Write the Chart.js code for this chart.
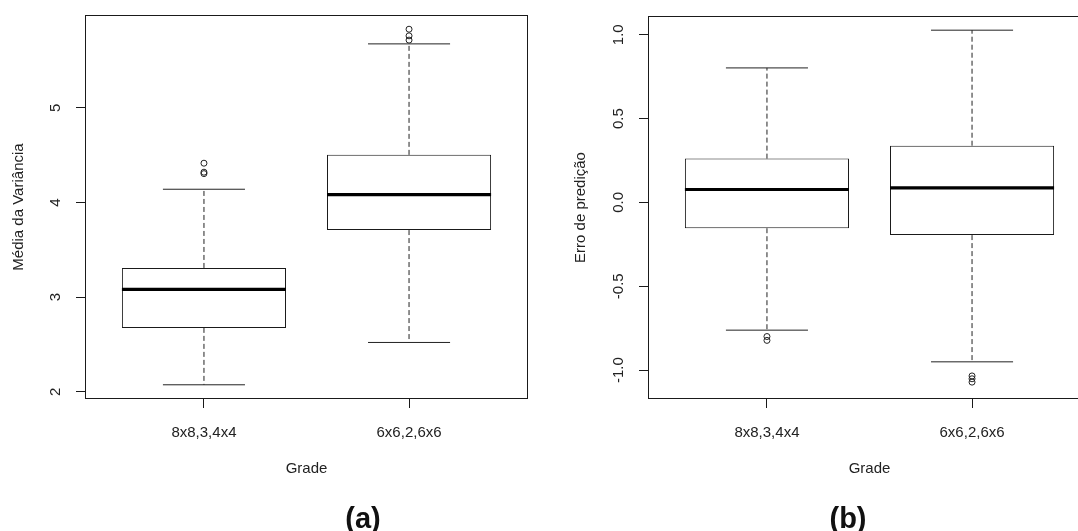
<!DOCTYPE html>
<html>
<head>
<meta charset="utf-8">
<script src="https://cdn.jsdelivr.net/npm/chart.js@4"></script>
<style>
  html, body { margin: 0; padding: 0; background: #fff; width: 1078px; height: 531px; overflow: hidden; }
  .panel { position: absolute; top: 0; }
  .tag { position: absolute; top: 504px; font: bold 29px 'Liberation Sans', Arial, sans-serif; line-height: 29px; color: #111; transform: translateX(-50%); white-space: nowrap; }
</style>
</head>
<body>
<div class="panel" style="left:0px"><canvas id="chartA" width="540" height="531"></canvas></div>
<div class="panel" style="left:540px"><canvas id="chartB" width="560" height="531"></canvas></div>
<div class="tag" style="left:363px">(a)</div>
<div class="tag" style="left:848px">(b)</div>
<script>
'use strict'

// categories (same grids on both plots)
const categories = ['8x8,3,4x4', '6x6,2,6x6'];

// (a) Média da Variância
const varLo  = [2.075, 2.522];
const varQ1  = [2.676, 3.709];
const varMed = [3.083, 4.084];
const varQ3  = [3.309, 4.503];
const varHi  = [4.140, 5.675];
const varOut = [[4.305, 4.32, 4.415], [5.715, 5.76, 5.83]];
const varTicks = [2, 3, 4, 5];

// (b) Erro de predição
const errLo  = [-0.762, -0.951];
const errQ1  = [-0.154, -0.195];
const errMed = [0.077, 0.087];
const errQ3  = [0.261, 0.338];
const errHi  = [0.802, 1.027];
const errOut = [[-0.800, -0.823], [-1.035, -1.052, -1.072]];
const errTicks = [-1.0, -0.5, 0.0, 0.5, 1.0];

Chart.defaults.font.family = "'Liberation Sans', Arial, sans-serif";
Chart.defaults.font.size = 15;
Chart.defaults.color = '#222';

const ink = '#1a1a1a';

// y tick label format per canvas
const tickFormat = {
  chartA: v => String(v),
  chartB: v => v.toFixed(1)
};

// frame + rotated y tick labels, R style
const rFrame = {
  id: 'rFrame',
  afterDraw(chart) {
    const ctx = chart.ctx;
    const a = chart.chartArea;
    ctx.save();
    ctx.strokeStyle = ink;
    ctx.lineWidth = 1;
    ctx.strokeRect(a.left + 0.5, a.top + 0.5, a.right - a.left - 1, a.bottom - a.top - 1);
    const ys = chart.scales.y;
    const fmt = tickFormat[chart.canvas.id];
    ctx.fillStyle = '#222';
    ctx.font = "15px 'Liberation Sans', Arial, sans-serif";
    ctx.textAlign = 'center';
    ctx.textBaseline = 'middle';
    ys.ticks.forEach(t => {
      const py = ys.getPixelForValue(t.value);
      ctx.save();
      ctx.translate(a.left - 29, py);
      ctx.rotate(-Math.PI / 2);
      ctx.fillText(fmt(t.value), 0, 0);
      ctx.restore();
    });
    ctx.restore();
  }
};

function makeBoxChart(id, lo, q1, med, q3, hi, out, ticks, yMin, yMax, yTitle, lay) {
  const boxes = categories.map((c, i) => ({ x: i + 1, y: [q1[i], q3[i]] }));
  const whiskers = [];
  const caps = [];
  const medians = [];
  categories.forEach((c, i) => {
    const x = i + 1;
    whiskers.push({ x: x, y: q3[i] }, { x: x, y: hi[i] }, { x: x, y: null });
    whiskers.push({ x: x, y: q1[i] }, { x: x, y: lo[i] }, { x: x, y: null });
    caps.push({ x: x - 0.2, y: hi[i] }, { x: x + 0.2, y: hi[i] }, { x: x, y: null });
    caps.push({ x: x - 0.2, y: lo[i] }, { x: x + 0.2, y: lo[i] }, { x: x, y: null });
    medians.push({ x: x - 0.4, y: med[i] }, { x: x + 0.4, y: med[i] }, { x: x, y: null });
  });
  const outliers = [];
  out.forEach((vals, i) => vals.forEach(v => outliers.push({ x: i + 1, y: v })));

  return new Chart(document.getElementById(id), {
    type: 'bar',
    data: {
      datasets: [
        { type: 'scatter', data: outliers, order: 0, pointStyle: 'circle', pointRadius: 3,
          pointBorderWidth: 1, pointBorderColor: '#222', pointBackgroundColor: 'rgba(0,0,0,0)' },
        { type: 'line', data: medians, order: 1, borderColor: '#000', borderWidth: 3.2,
          pointRadius: 0, borderCapStyle: 'butt' },
        { type: 'line', data: caps, order: 2, borderColor: '#222', borderWidth: 1, pointRadius: 0 },
        { type: 'line', data: whiskers, order: 3, borderColor: '#222', borderWidth: 1,
          borderDash: [5, 3], pointRadius: 0 },
        { type: 'bar', data: boxes, order: 4, backgroundColor: '#fff', borderColor: ink,
          borderWidth: 1, borderSkipped: false, categoryPercentage: 0.8, barPercentage: 1.0 }
      ]
    },
    options: {
      responsive: false,
      animation: false,
      layout: { padding: { top: lay.top, right: lay.right, left: 0, bottom: 0 } },
      plugins: { legend: { display: false }, tooltip: { enabled: false } },
      scales: {
        x: {
          type: 'linear',
          min: 0.42,
          max: 2.58,
          offset: false,
          afterBuildTicks: s => { s.ticks = categories.map((c, i) => ({ value: i + 1 })); },
          afterFit: s => { s.height = 531 - lay.bottom; },
          ticks: { callback: v => categories[v - 1], padding: 16, color: '#222', maxRotation: 0 },
          grid: { offset: false, drawOnChartArea: false, drawTicks: true, tickLength: 9, color: ink },
          border: { display: false },
          title: { display: true, text: 'Grade', color: '#222', padding: { top: 0, bottom: 53 } }
        },
        y: {
          type: 'linear',
          min: yMin,
          max: yMax,
          afterBuildTicks: s => { s.ticks = ticks.map(v => ({ value: v })); },
          afterFit: s => { s.width = lay.left; },
          ticks: { display: false },
          grid: { drawOnChartArea: false, drawTicks: true, tickLength: 9, color: ink },
          border: { display: false },
          title: { display: true, text: yTitle, color: '#222', padding: { top: lay.titlePad, bottom: 0 } }
        }
      }
    },
    plugins: [rFrame]
  });
}

makeBoxChart('chartA', varLo, varQ1, varMed, varQ3, varHi, varOut, varTicks,
  1.925, 5.98, 'Média da Variância',
  { top: 15, right: 12, bottom: 399, left: 85, titlePad: 10 });

makeBoxChart('chartB', errLo, errQ1, errMed, errQ3, errHi, errOut, errTicks,
  -1.1726, 1.1116, 'Erro de predição',
  { top: 16, right: 9, bottom: 399, left: 108, titlePad: 32 });
</script>
</body>
</html>
